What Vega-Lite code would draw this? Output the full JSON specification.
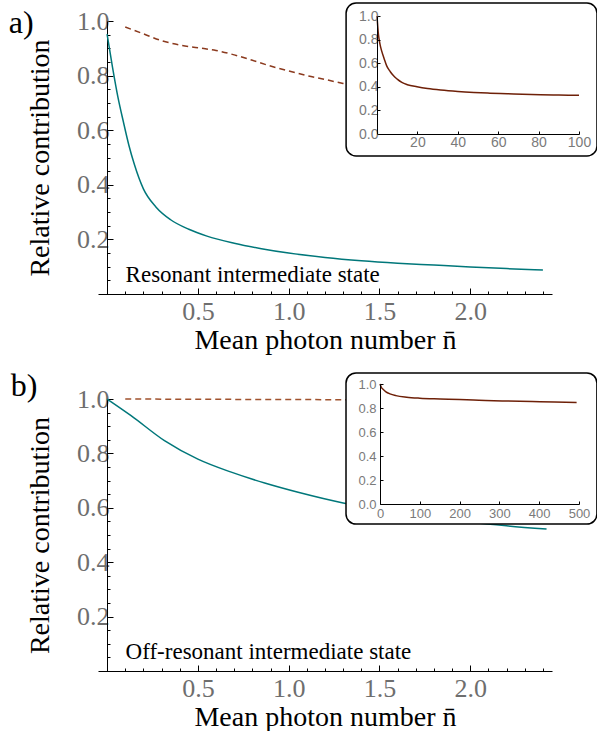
{
  "$schema": "https://vega.github.io/schema/vega-lite/v6.json",
  "background": "white",
  "padding": {"left": 8, "top": 2, "right": 0, "bottom": 0},
  "config": {
    "view": {"stroke": null},
    "axis": {"grid": false, "labelFlush": false, "labelOverlap": false, "domainColor": "#000000", "domainWidth": 1, "tickColor": "#000000", "labelColor": "#6e6e6e", "labelFont": "Liberation Serif", "titleFont": "Liberation Serif", "titleFontWeight": "normal", "titleColor": "#000000"}
  },
  "datasets": {
    "a_res": [
      {"n": 0, "v": 0.952}, {"n": 0.03, "v": 0.83}, {"n": 0.06, "v": 0.72}, {"n": 0.09, "v": 0.63},
      {"n": 0.12, "v": 0.545}, {"n": 0.15, "v": 0.475}, {"n": 0.2, "v": 0.385}, {"n": 0.27, "v": 0.318},
      {"n": 0.35, "v": 0.272}, {"n": 0.45, "v": 0.237}, {"n": 0.55, "v": 0.212}, {"n": 0.7, "v": 0.186},
      {"n": 0.85, "v": 0.166}, {"n": 1.0, "v": 0.15}, {"n": 1.2, "v": 0.134}, {"n": 1.4, "v": 0.122},
      {"n": 1.6, "v": 0.113}, {"n": 1.8, "v": 0.106}, {"n": 2.0, "v": 0.099}, {"n": 2.2, "v": 0.093},
      {"n": 2.4, "v": 0.088}
    ],
    "a_nres": [
      {"n": 0.1, "v": 0.978}, {"n": 0.2, "v": 0.953}, {"n": 0.3, "v": 0.928}, {"n": 0.4, "v": 0.912},
      {"n": 0.5, "v": 0.902}, {"n": 0.6, "v": 0.892}, {"n": 0.7, "v": 0.876}, {"n": 0.8, "v": 0.856},
      {"n": 0.9, "v": 0.835}, {"n": 1.0, "v": 0.817}, {"n": 1.1, "v": 0.8}, {"n": 1.2, "v": 0.786},
      {"n": 1.3, "v": 0.771}, {"n": 1.4, "v": 0.757}, {"n": 1.6, "v": 0.73}, {"n": 1.8, "v": 0.705},
      {"n": 2.0, "v": 0.68}, {"n": 2.2, "v": 0.66}, {"n": 2.4, "v": 0.64}
    ],
    "a_inset": [
      {"n": 0, "v": 1.0}, {"n": 0.7, "v": 0.845}, {"n": 1.5, "v": 0.76}, {"n": 2.3, "v": 0.704},
      {"n": 3.5, "v": 0.64}, {"n": 4.8, "v": 0.577}, {"n": 6.5, "v": 0.53}, {"n": 8.2, "v": 0.493},
      {"n": 10, "v": 0.465}, {"n": 12.3, "v": 0.437}, {"n": 15, "v": 0.418}, {"n": 19.8, "v": 0.4},
      {"n": 25, "v": 0.385}, {"n": 31.5, "v": 0.372}, {"n": 40, "v": 0.36}, {"n": 48, "v": 0.352},
      {"n": 56, "v": 0.346}, {"n": 64.5, "v": 0.341}, {"n": 72, "v": 0.336}, {"n": 81, "v": 0.332},
      {"n": 90, "v": 0.33}, {"n": 100, "v": 0.328}
    ],
    "b_res": [
      {"n": 0, "v": 1.0}, {"n": 0.132, "v": 0.939}, {"n": 0.316, "v": 0.847}, {"n": 0.5, "v": 0.779},
      {"n": 0.684, "v": 0.731}, {"n": 0.868, "v": 0.691}, {"n": 1.052, "v": 0.657}, {"n": 1.3, "v": 0.618},
      {"n": 1.5, "v": 0.596}, {"n": 1.75, "v": 0.571}, {"n": 2.0, "v": 0.548}, {"n": 2.2, "v": 0.534},
      {"n": 2.42, "v": 0.522}
    ],
    "b_nres": [
      {"n": 0.1, "v": 1.0}, {"n": 0.5, "v": 0.999}, {"n": 1.0, "v": 0.998}, {"n": 1.5, "v": 0.997},
      {"n": 2.0, "v": 0.996}, {"n": 2.4, "v": 0.995}
    ],
    "b_inset": [
      {"n": 0, "v": 1.0}, {"n": 3, "v": 0.975}, {"n": 8.4, "v": 0.954}, {"n": 15, "v": 0.935},
      {"n": 25, "v": 0.918}, {"n": 40, "v": 0.903}, {"n": 67, "v": 0.89}, {"n": 100, "v": 0.882},
      {"n": 151, "v": 0.876}, {"n": 200, "v": 0.871}, {"n": 235, "v": 0.866}, {"n": 318, "v": 0.858},
      {"n": 402, "v": 0.852}, {"n": 494, "v": 0.846}
    ]
  },
  "spacing": 16,
  "vconcat": [
    {
      "width": 454, "height": 273,
      "resolve": {"scale": {"x": "independent", "y": "independent"}, "axis": {"x": "independent", "y": "independent"}},
      "layer": [
        {
          "data": {"name": "a_res"},
          "mark": {"type": "line", "color": "#00777a", "strokeWidth": 1.5, "interpolate": "monotone"},
          "encoding": {
            "x": {"field": "n", "type": "quantitative", "scale": {"domain": [-0.05, 2.45], "nice": false, "zero": false},
                  "axis": {"orient": "bottom", "values": [0.5, 1.0, 1.5, 2.0], "format": ".1f", "labelFontSize": 26, "tickSize": -6, "labelPadding": 10, "title": "Mean photon number n̄", "titleFontSize": 28, "titlePadding": 2}},
            "y": {"field": "v", "type": "quantitative", "scale": {"domain": [0, 1], "nice": false},
                  "axis": {"orient": "left", "offset": -9, "values": [0.2, 0.4, 0.6, 0.8, 1.0], "format": ".1f", "labelFontSize": 26, "tickSize": -6, "labelPadding": 4, "title": "Relative contribution", "titleFontSize": 28, "titlePadding": 22}}
          }
        },
        {
          "data": {"name": "a_res"},
          "mark": {"type": "line", "opacity": 0},
          "encoding": {
            "x": {"field": "n", "type": "quantitative", "scale": {"domain": [-0.05, 2.45], "nice": false, "zero": false},
                  "axis": {"orient": "bottom", "values": [0.1, 0.2, 0.3, 0.4, 0.6, 0.7, 0.8, 0.9, 1.1, 1.2, 1.3, 1.4, 1.6, 1.7, 1.8, 1.9, 2.1, 2.2, 2.3, 2.4], "labels": false, "domain": false, "tickSize": -3, "title": null}},
            "y": {"field": "v", "type": "quantitative", "scale": {"domain": [0, 1], "nice": false},
                  "axis": {"orient": "left", "offset": -9, "values": [0.05, 0.1, 0.15, 0.25, 0.3, 0.35, 0.45, 0.5, 0.55, 0.65, 0.7, 0.75, 0.85, 0.9, 0.95], "labels": false, "domain": false, "tickSize": -3, "title": null}}
          }
        },
        {
          "data": {"name": "a_nres"},
          "mark": {"type": "line", "color": "#8b3a1e", "strokeWidth": 1.5, "strokeDash": [6, 4], "interpolate": "monotone"},
          "encoding": {
            "x": {"field": "n", "type": "quantitative", "scale": {"domain": [-0.05, 2.45], "nice": false, "zero": false}, "axis": null},
            "y": {"field": "v", "type": "quantitative", "scale": {"domain": [0, 1], "nice": false}, "axis": null}
          }
        },
        {
          "data": {"values": [{"label": "Resonant intermediate state"}]},
          "mark": {"type": "text", "font": "Liberation Serif", "fontSize": 23, "align": "left", "baseline": "alphabetic", "color": "#000000"},
          "encoding": {
            "text": {"field": "label"},
            "x": {"datum": 0.102, "type": "quantitative", "scale": {"domain": [-0.05, 2.45], "nice": false, "zero": false}, "axis": null},
            "y": {"datum": 0.044, "type": "quantitative", "scale": {"domain": [0, 1], "nice": false}, "axis": null}
          }
        },
        {
          "data": {"values": [{"label": "a)"}]},
          "mark": {"type": "text", "font": "Liberation Serif", "fontSize": 32, "align": "left", "baseline": "middle", "color": "#000000"},
          "encoding": {
            "text": {"field": "label"},
            "x": {"datum": -0.541, "type": "quantitative", "scale": {"domain": [-0.05, 2.45], "nice": false, "zero": false}, "axis": null},
            "y": {"datum": 0.993, "type": "quantitative", "scale": {"domain": [0, 1], "nice": false}, "axis": null}
          }
        },
        {
          "data": {"values": [{"frame": "inset"}]},
          "mark": {"type": "rect", "fill": "white", "stroke": "#000000", "strokeWidth": 1.5, "cornerRadius": 10},
          "encoding": {
            "x": {"datum": -15.3, "type": "quantitative", "scale": {"domain": [0, 100], "range": [279, 481], "nice": false, "zero": false}, "axis": null},
            "x2": {"datum": 108.9},
            "y": {"datum": 1.11, "type": "quantitative", "scale": {"domain": [0, 1], "range": [113, -5], "nice": false}, "axis": null},
            "y2": {"datum": -0.186}
          }
        },
        {
          "data": {"name": "a_inset"},
          "mark": {"type": "line", "color": "#6e2008", "strokeWidth": 1.5, "interpolate": "monotone"},
          "encoding": {
            "x": {"field": "n", "type": "quantitative", "scale": {"domain": [0, 100], "range": [279, 481], "nice": false, "zero": false},
                  "axis": {"orient": "bottom", "offset": -160, "zindex": 1, "values": [20, 40, 60, 80, 100], "labelFont": "Liberation Sans", "labelFontSize": 14, "labelColor": "#7a7a7a", "tickSize": -3, "labelPadding": 4, "title": null}},
            "y": {"field": "v", "type": "quantitative", "scale": {"domain": [0, 1], "range": [113, -5], "nice": false},
                  "axis": {"orient": "left", "offset": -279, "zindex": 1, "values": [0, 0.2, 0.4, 0.6, 0.8, 1.0], "format": ".1f", "labelFont": "Liberation Sans", "labelFontSize": 14, "labelColor": "#7a7a7a", "tickSize": -3, "labelPadding": 2, "title": null}}
          }
        }
      ]
    },
    {
      "width": 454, "height": 272,
      "resolve": {"scale": {"x": "independent", "y": "independent"}, "axis": {"x": "independent", "y": "independent"}},
      "layer": [
        {
          "data": {"name": "b_res"},
          "mark": {"type": "line", "color": "#00777a", "strokeWidth": 1.5, "interpolate": "monotone"},
          "encoding": {
            "x": {"field": "n", "type": "quantitative", "scale": {"domain": [-0.05, 2.45], "nice": false, "zero": false},
                  "axis": {"orient": "bottom", "values": [0.5, 1.0, 1.5, 2.0], "format": ".1f", "labelFontSize": 26, "tickSize": -6, "labelPadding": 10, "title": "Mean photon number n̄", "titleFontSize": 28, "titlePadding": 2}},
            "y": {"field": "v", "type": "quantitative", "scale": {"domain": [0, 1], "nice": false},
                  "axis": {"orient": "left", "offset": -9, "values": [0.2, 0.4, 0.6, 0.8, 1.0], "format": ".1f", "labelFontSize": 26, "tickSize": -6, "labelPadding": 4, "title": "Relative contribution", "titleFontSize": 28, "titlePadding": 22}}
          }
        },
        {
          "data": {"name": "b_res"},
          "mark": {"type": "line", "opacity": 0},
          "encoding": {
            "x": {"field": "n", "type": "quantitative", "scale": {"domain": [-0.05, 2.45], "nice": false, "zero": false},
                  "axis": {"orient": "bottom", "values": [0.1, 0.2, 0.3, 0.4, 0.6, 0.7, 0.8, 0.9, 1.1, 1.2, 1.3, 1.4, 1.6, 1.7, 1.8, 1.9, 2.1, 2.2, 2.3, 2.4], "labels": false, "domain": false, "tickSize": -3, "title": null}},
            "y": {"field": "v", "type": "quantitative", "scale": {"domain": [0, 1], "nice": false},
                  "axis": {"orient": "left", "offset": -9, "values": [0.05, 0.1, 0.15, 0.25, 0.3, 0.35, 0.45, 0.5, 0.55, 0.65, 0.7, 0.75, 0.85, 0.9, 0.95], "labels": false, "domain": false, "tickSize": -3, "title": null}}
          }
        },
        {
          "data": {"name": "b_nres"},
          "mark": {"type": "line", "color": "#a0522d", "strokeWidth": 1.5, "strokeDash": [6, 4]},
          "encoding": {
            "x": {"field": "n", "type": "quantitative", "scale": {"domain": [-0.05, 2.45], "nice": false, "zero": false}, "axis": null},
            "y": {"field": "v", "type": "quantitative", "scale": {"domain": [0, 1], "nice": false}, "axis": null}
          }
        },
        {
          "data": {"values": [{"label": "Off-resonant intermediate state"}]},
          "mark": {"type": "text", "font": "Liberation Serif", "fontSize": 23, "align": "left", "baseline": "alphabetic", "color": "#000000"},
          "encoding": {
            "text": {"field": "label"},
            "x": {"datum": 0.102, "type": "quantitative", "scale": {"domain": [-0.05, 2.45], "nice": false, "zero": false}, "axis": null},
            "y": {"datum": 0.044, "type": "quantitative", "scale": {"domain": [0, 1], "nice": false}, "axis": null}
          }
        },
        {
          "data": {"values": [{"label": "b)"}]},
          "mark": {"type": "text", "font": "Liberation Serif", "fontSize": 32, "align": "left", "baseline": "middle", "color": "#000000"},
          "encoding": {
            "text": {"field": "label"},
            "x": {"datum": -0.53, "type": "quantitative", "scale": {"domain": [-0.05, 2.45], "nice": false, "zero": false}, "axis": null},
            "y": {"datum": 1.046, "type": "quantitative", "scale": {"domain": [0, 1], "nice": false}, "axis": null}
          }
        },
        {
          "data": {"values": [{"frame": "inset"}]},
          "mark": {"type": "rect", "fill": "white", "stroke": "#000000", "strokeWidth": 1.5, "cornerRadius": 10},
          "encoding": {
            "x": {"datum": -85.4, "type": "quantitative", "scale": {"domain": [0, 500], "range": [282, 481], "nice": false, "zero": false}, "axis": null},
            "x2": {"datum": 545},
            "y": {"datum": 1.092, "type": "quantitative", "scale": {"domain": [0, 1], "range": [105, -15], "nice": false}, "axis": null},
            "y2": {"datum": -0.167}
          }
        },
        {
          "data": {"name": "b_inset"},
          "mark": {"type": "line", "color": "#6e2008", "strokeWidth": 1.5, "interpolate": "monotone"},
          "encoding": {
            "x": {"field": "n", "type": "quantitative", "scale": {"domain": [0, 500], "range": [282, 481], "nice": false, "zero": false},
                  "axis": {"orient": "bottom", "offset": -167, "zindex": 1, "values": [0, 100, 200, 300, 400, 500], "labelFont": "Liberation Sans", "labelFontSize": 13, "labelColor": "#7a7a7a", "tickSize": -3, "labelPadding": 6, "title": null}},
            "y": {"field": "v", "type": "quantitative", "scale": {"domain": [0, 1], "range": [105, -15], "nice": false},
                  "axis": {"orient": "left", "offset": -282, "zindex": 1, "values": [0, 0.2, 0.4, 0.6, 0.8, 1.0], "format": ".1f", "labelFont": "Liberation Sans", "labelFontSize": 13, "labelColor": "#7a7a7a", "tickSize": -3, "labelPadding": 7, "title": null}}
          }
        }
      ]
    }
  ]
}
